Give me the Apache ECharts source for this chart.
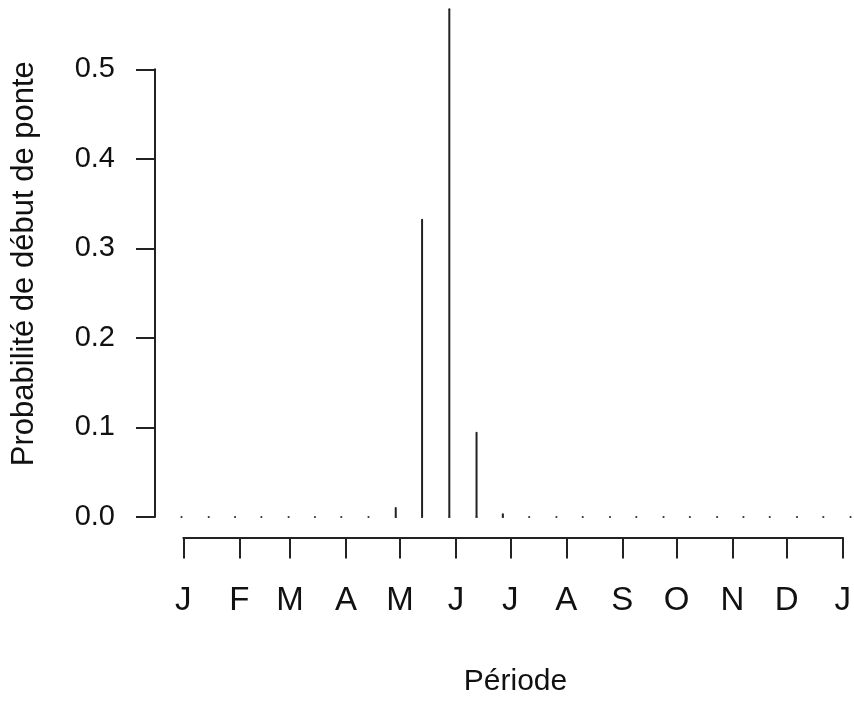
<!DOCTYPE html>
<html>
<head>
<meta charset="utf-8">
<script src="https://cdn.jsdelivr.net/npm/echarts@6/dist/echarts.min.js"></script>
<style>
  html, body { margin: 0; padding: 0; background: #fff; }
  #chart { width: 854px; height: 702px; }
</style>
</head>
<body>
<div id="chart"></div>
<script>
// jour de l'année de chaque point (J = 0)
var dayPoints = [-1, 14, 28.5, 43, 58, 72.5, 87, 102, 117, 131.5, 146.5, 161.5, 176,
                 190.5, 205.5, 220, 235, 249.5, 264.5, 279, 294, 308.5, 323, 338, 352.5, 367.5]
var probValues = [0, 0, 0, 0, 0, 0, 0, 0, 0.01, 0.332, 0.567, 0.094, 0.003,
                  0, 0, 0, 0, 0, 0, 0, 0, 0, 0, 0, 0, 0]

var monthStarts = [0, 31, 59, 90, 120, 151, 181, 212, 243, 273, 304, 334, 365]
var monthLabels = ['J', 'F', 'M', 'A', 'M', 'J', 'J', 'A', 'S', 'O', 'N', 'D', 'J']
var yTicks = [0, 0.1, 0.2, 0.3, 0.4, 0.5]

var font = '"Liberation Sans", Arial, Helvetica, sans-serif'
var ink = '#222'

var seriesData = []
for (let i = 0; i < dayPoints.length; i++) {
    seriesData.push([dayPoints[i], probValues[i]])
}

option = {
    animation: false,
    backgroundColor: '#fff',
    grid: [
        // zone des données + axe y (0 a 0.5)
        { left: 155, right: 0, top: 69.3, bottom: 185 },
        // axe des mois
        { left: 183.3, right: 8, top: 500, bottom: 164.5 }
    ],
    xAxis: [
        {
            gridIndex: 0, type: 'value', min: -15.6, max: 369.4,
            show: false
        },
        {
            gridIndex: 1, type: 'value', min: 0, max: 365,
            axisLine: { show: true, onZero: false, lineStyle: { color: ink, width: 2 } },
            axisTick: { show: true, length: 21, lineStyle: { color: ink, width: 2 }, customValues: monthStarts },
            axisLabel: {
                customValues: monthStarts,
                margin: 47,
                color: '#111',
                fontSize: 33,
                fontFamily: font,
                formatter: function (v) {
                    var k = monthStarts.indexOf(v)
                    return k >= 0 ? monthLabels[k] : ''
                }
            },
            splitLine: { show: false }
        }
    ],
    yAxis: [
        {
            gridIndex: 0, type: 'value', min: 0, max: 0.5,
            axisLine: { show: true, onZero: false, lineStyle: { color: ink, width: 2 } },
            axisTick: { show: true, length: 19, lineStyle: { color: ink, width: 2 }, customValues: yTicks },
            axisLabel: {
                customValues: yTicks,
                margin: 40,
                color: '#111',
                fontSize: 29,
                fontFamily: font,
                padding: [5, 0, 0, 0],
                formatter: function (v) { return v.toFixed(1) }
            },
            splitLine: { show: false }
        },
        {
            gridIndex: 1, type: 'value', show: false
        }
    ],
    graphic: [
        {
            type: 'text', x: 24, y: 263.7, rotation: Math.PI / 2,
            style: {
                text: 'Probabilité de début de ponte',
                fill: '#111', font: '31px ' + font,
                align: 'center', verticalAlign: 'middle'
            }
        },
        {
            type: 'text', x: 515.5, y: 682,
            style: {
                text: 'Période',
                fill: '#111', font: '30px ' + font,
                align: 'center', verticalAlign: 'middle'
            }
        }
    ],
    series: [
        {
            type: 'custom',
            xAxisIndex: 0,
            yAxisIndex: 0,
            clip: false,
            data: seriesData,
            renderItem: function (params, api) {
                var base = api.coord([api.value(0), 0])
                var top = api.coord([api.value(0), api.value(1)])
                return {
                    type: 'group',
                    children: [
                        {
                            type: 'line',
                            shape: { x1: base[0], y1: base[1], x2: top[0], y2: top[1] },
                            style: { stroke: ink, lineWidth: 2, lineCap: 'round' }
                        },
                        {
                            type: 'circle',
                            shape: { cx: base[0], cy: base[1], r: 1.1 },
                            style: { fill: '#333' }
                        }
                    ]
                }
            }
        }
    ]
};

var myChart = echarts.init(document.getElementById('chart'));
myChart.setOption(option);
</script>
</body>
</html>
